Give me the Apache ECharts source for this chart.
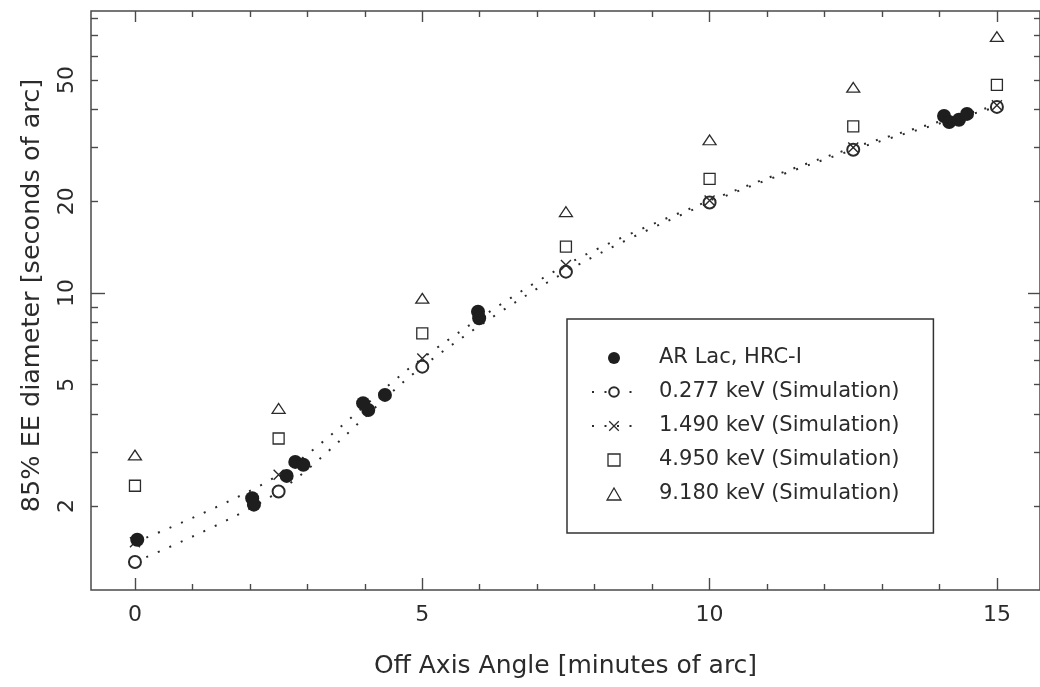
<!DOCTYPE html>
<html><head><meta charset="utf-8">
<script src="https://cdn.jsdelivr.net/npm/echarts@6/dist/echarts.min.js"></script>
<style>html,body{margin:0;padding:0;background:#fff;}#c{width:1040px;height:687px;}</style>
</head><body><div id="c"></div>
<script>
// ---- data ----
const arLacX = [0.04, 2.04, 2.07, 2.64, 2.79, 2.93, 3.97, 4.06, 4.35, 5.97, 5.99, 14.08, 14.17, 14.34, 14.48];
const arLacY = [1.55, 2.12, 2.02, 2.51, 2.79, 2.73, 4.35, 4.13, 4.63, 8.68, 8.26, 38.1, 36.4, 37.0, 38.7];
const simX = [0, 2.5, 5, 7.5, 10, 12.5, 15];
const sim0277 = [1.31, 2.23, 5.73, 11.75, 19.8, 29.5, 40.8];
const sim1490 = [1.52, 2.53, 6.10, 12.36, 20.1, 30.0, 41.3];
const sim4950 = [2.33, 3.33, 7.37, 14.19, 23.7, 35.2, 48.2];
const sim9180 = [2.94, 4.18, 9.61, 18.49, 31.8, 47.3, 69.4];
const seriesNames = ['AR Lac, HRC-I', '0.277 keV (Simulation)', '1.490 keV (Simulation)', '4.950 keV (Simulation)', '9.180 keV (Simulation)'];
const xTickLabels = [0, 5, 10, 15];
const xMajorTicks = [0, 5, 10, 15];
const xMinorTicks = [1, 2, 3, 4, 6, 7, 8, 9, 11, 12, 13, 14];
const yTickLabels = [2, 5, 10, 20, 50];
const yMajorTicks = [10];
const yMinorTicks = [2, 3, 4, 5, 6, 7, 8, 9, 20, 30, 40, 50, 60, 70, 80];
const xRange = [-0.765, 15.75];
const yRange = [1.06, 84.2];
const xTitle = 'Off Axis Angle [minutes of arc]';
const yTitle = '85% EE diameter [seconds of arc]';

const FONT = 'DejaVu Sans';
const INK = '#2b2b2b';
const FRAME = '#4a4a4a';
const SQUARE = 'path://M0,0L10,0L10,10L0,10Z';
const TRIANGLE = 'path://M5,0L10,8.66L0,8.66Z';
const CROSS = 'path://M0,0L10,10M0,10L10,0';

function zip(xs, ys) { return xs.map((x, i) => [x, ys[i]]); }

function xAxisDef(position, ticks, len, labels, name) {
  return {
    type: 'value', position: position, min: xRange[0], max: xRange[1],
    axisLine: { show: false, onZero: false }, splitLine: { show: false },
    axisTick: { show: true, inside: true, length: len, customValues: ticks, lineStyle: { color: FRAME, width: 1.4 } },
    axisLabel: labels ? { show: true, customValues: labels, margin: 14, fontFamily: FONT, fontSize: 22, color: INK, formatter: v => String(v) } : { show: false },
    name: name || '', nameLocation: 'middle', nameGap: 64,
    nameTextStyle: { fontFamily: FONT, fontSize: 25, color: INK }
  };
}
function yAxisDef(position, ticks, len, labels, name) {
  return {
    type: 'log', logBase: 10, position: position, min: yRange[0], max: yRange[1],
    axisLine: { show: false, onZero: false }, splitLine: { show: false }, minorTick: { show: false },
    axisTick: { show: true, inside: true, length: len, customValues: ticks, lineStyle: { color: FRAME, width: 1.4 } },
    axisLabel: labels ? { show: true, customValues: labels, rotate: 90, margin: 13, fontFamily: FONT, fontSize: 22, color: INK, formatter: v => String(Math.round(v)) } : { show: false },
    name: name || '', nameLocation: 'middle', nameGap: 46, nameRotate: 90,
    nameTextStyle: { fontFamily: FONT, fontSize: 25.5, color: INK, padding: [0, 0, 0, 10] }
  };
}

const chart = echarts.init(document.getElementById('c'), null, { renderer: 'canvas' });
chart.setOption({
  animation: false,
  backgroundColor: '#fff',
  grid: { left: 91, top: 11, width: 950, height: 579, show: true, borderColor: FRAME, borderWidth: 1.5, backgroundColor: 'transparent' },
  xAxis: [
    xAxisDef('bottom', xMajorTicks, 12, xTickLabels, xTitle),
    xAxisDef('bottom', xMinorTicks, 6, null),
    xAxisDef('top', xMajorTicks, 11, null),
    xAxisDef('top', xMinorTicks, 6, null)
  ],
  yAxis: [
    yAxisDef('left', yMajorTicks, 14, yTickLabels, yTitle),
    yAxisDef('left', yMinorTicks, 7, null),
    yAxisDef('right', yMajorTicks, 12, null),
    yAxisDef('right', yMinorTicks, 6, null)
  ],
  legend: {
    left: 567, top: 319, orient: 'vertical', selectedMode: false, symbolKeepAspect: true,
    padding: [28, 34, 28, 24], itemWidth: 44, itemHeight: 12, itemGap: 12,
    borderColor: '#333', borderWidth: 1.5, backgroundColor: '#fff',
    itemStyle: { borderWidth: 1.3 },
    textStyle: { fontFamily: FONT, fontSize: 21, color: INK, lineHeight: 22, padding: [0, 0, 0, 18] },
    data: seriesNames
  },
  series: [
    { name: seriesNames[1], type: 'line', data: zip(simX, sim0277), smooth: 0.3,
      symbol: 'emptyCircle', symbolSize: 12, z: 3,
      lineStyle: { color: INK, width: 2, type: [2, 10.5] },
      itemStyle: { color: INK, borderColor: INK, borderWidth: 1.3 } },
    { name: seriesNames[2], type: 'line', data: zip(simX, sim1490), smooth: 0.3,
      symbol: CROSS, symbolSize: 10, z: 4,
      lineStyle: { color: INK, width: 2, type: [2, 10.5] },
      itemStyle: { color: INK, borderColor: INK, borderWidth: 1.4 } },
    { name: seriesNames[3], type: 'scatter', data: zip(simX, sim4950),
      symbol: SQUARE, symbolSize: 11, z: 3, symbolKeepAspect: true,
      itemStyle: { color: '#fff', borderColor: INK, borderWidth: 1.3, opacity: 1 } },
    { name: seriesNames[4], type: 'scatter', data: zip(simX, sim9180),
      symbol: TRIANGLE, symbolSize: [13, 11.3], z: 3, symbolKeepAspect: true,
      itemStyle: { color: '#fff', borderColor: INK, borderWidth: 1.3, opacity: 1 } },
    { name: seriesNames[0], type: 'scatter', data: zip(arLacX, arLacY),
      symbol: 'circle', symbolSize: 14, z: 5,
      itemStyle: { color: '#1e1e1e', opacity: 1 } }
  ]
});
</script></body></html>
